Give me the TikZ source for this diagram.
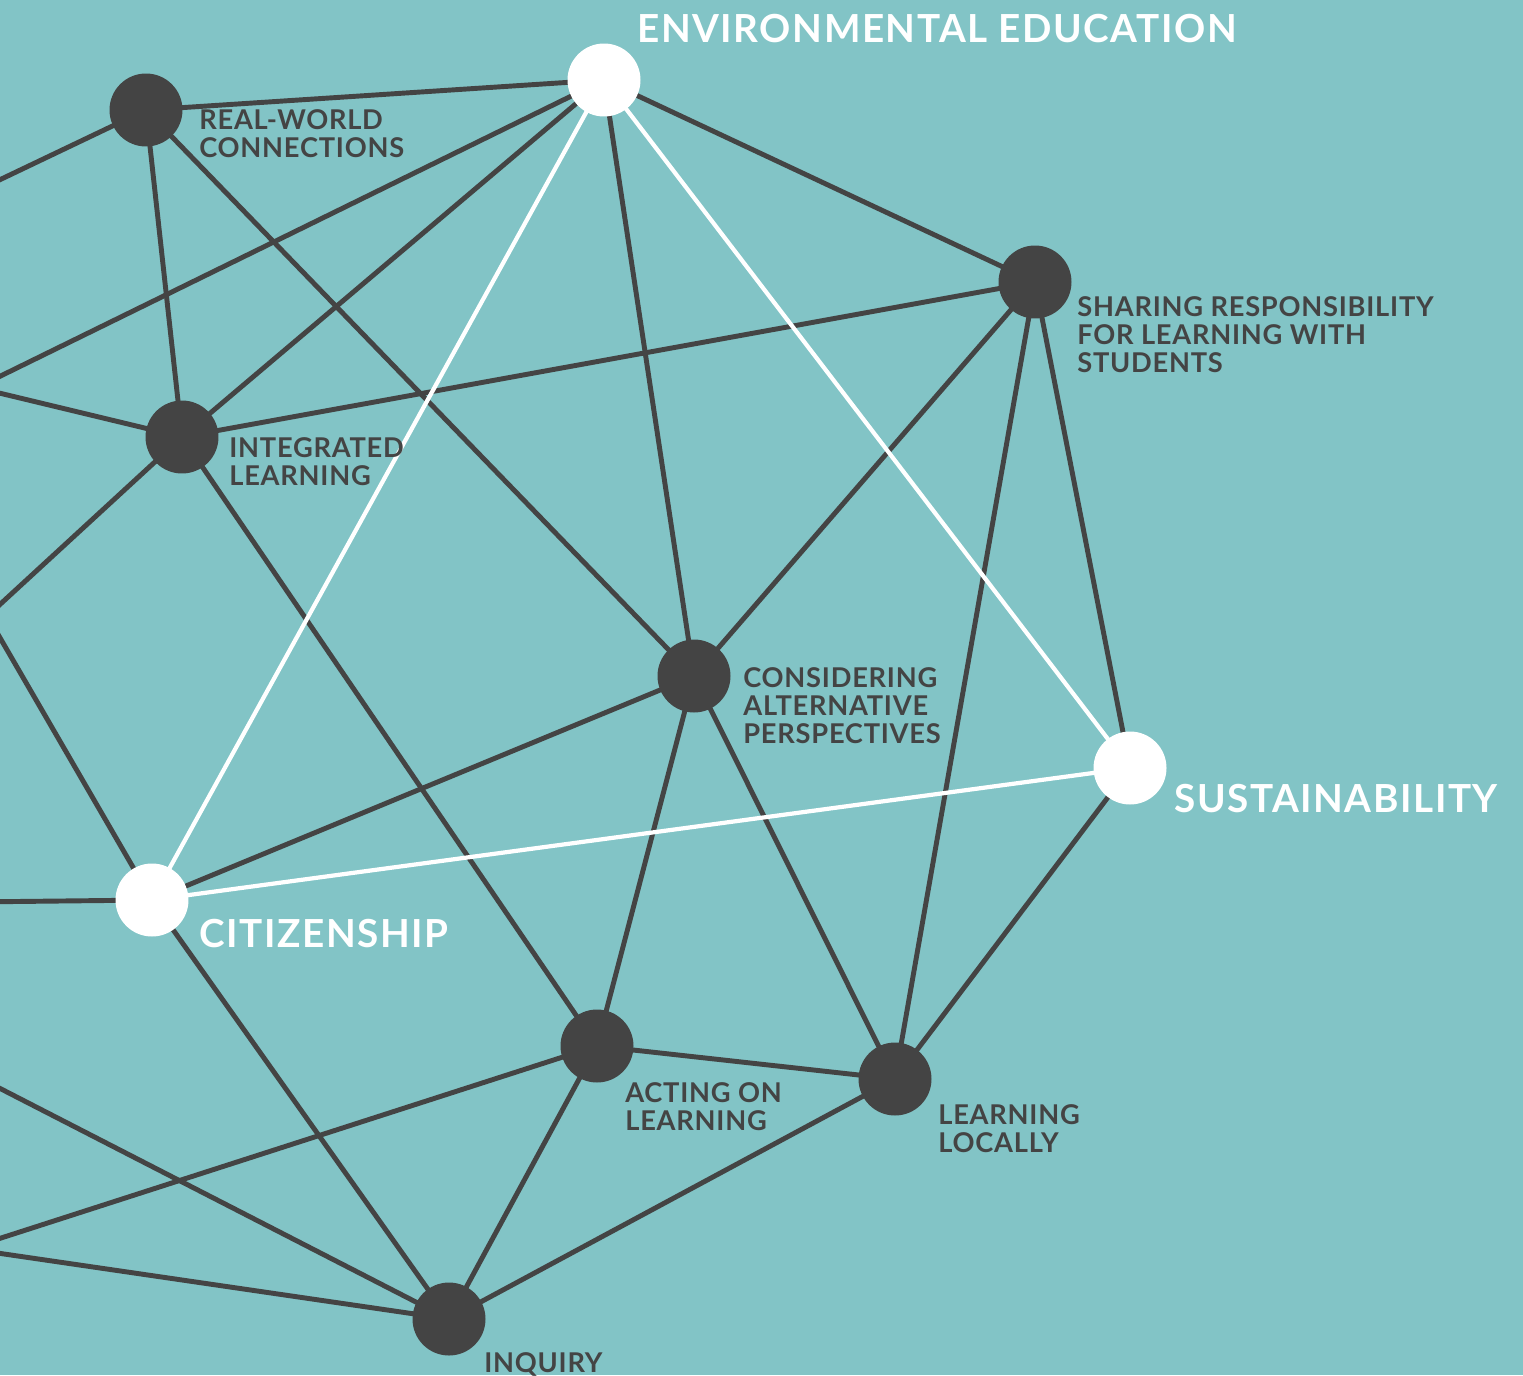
\documentclass[tikz,border=0pt]{standalone}
\usepackage{fontspec}
\setmainfont{Lato}
\newfontfamily\smallFont[LetterSpace=2.8]{Lato}
\newfontfamily\bigFont[LetterSpace=4]{Lato}
\definecolor{bgTeal}{HTML}{82C4C6}
\definecolor{dkGray}{HTML}{444444}
\pgfdeclarelayer{back}
\pgfdeclarelayer{wires}
\pgfsetlayers{back,wires,main}
\begin{document}
\begin{tikzpicture}[x=0.02cm,y=-0.02cm,
  dotN/.style={circle,fill=dkGray,minimum size=1.46cm,inner sep=0},
  hubN/.style={circle,fill=white,minimum size=1.46cm,inner sep=0},
  wire/.style={draw=dkGray,line width=2.8pt},
  wWire/.style={draw=white,line width=2.4pt},
  smallTxt/.style={text=dkGray,font=\smallFont\bfseries\fontsize{15.5}{15.9}\selectfont,align=left,anchor=north west,inner sep=0},
  bigTxt/.style={text=white,font=\bigFont\bfseries\fontsize{22}{24}\selectfont,anchor=north west,inner sep=0}]
\begin{pgfonlayer}{back}
\fill[bgTeal] (0,0) rectangle (1523,1375);
\end{pgfonlayer}
\useasboundingbox (0,0) rectangle (1523,1375);
\clip (0,0) rectangle (1523,1375);

%節點
\node[hubN] (nEE) at (604,80) {};
\node[dotN] (nRW) at (146,110) {};
\node[dotN] (nSR) at (1035,282) {};
\node[dotN] (nIL) at (182,437) {};
\node[dotN] (nCAP) at (694,676) {};
\node[hubN] (nSUS) at (1130,768) {};
\node[hubN] (nCIT) at (152,900) {};
\node[dotN] (nAOL) at (597,1046) {};
\node[dotN] (nLL) at (895,1079) {};
\node[dotN] (nINQ) at (449,1319) {};

%畫面左邊以外的端點
\coordinate (cOffA) at (-30,194);
\coordinate (cOffB) at (-30,391);
\coordinate (cOffC) at (-30,386);
\coordinate (cOffD) at (-30,632);
\coordinate (cOffE) at (-30,586);
\coordinate (cOffF) at (-30,902);
\coordinate (cOffG) at (-30,1073);
\coordinate (cOffH) at (-30,1248);
\coordinate (cOffI) at (-30,1249);

\node[bigTxt] (tEE) at (637,14) {ENVIRONMENTAL EDUCATION};
\node[smallTxt] (tRW) at (199,109) {REAL-WORLD\\CONNECTIONS};
\node[smallTxt] (tSR) at (1077,296) {SHARING RESPONSIBILITY\\FOR LEARNING WITH\\STUDENTS};
\node[smallTxt] (tIL) at (229,437) {INTEGRATED\\LEARNING};
\node[smallTxt] (tCAP) at (743,667) {CONSIDERING\\ALTERNATIVE\\PERSPECTIVES};
\node[bigTxt] (tSUS) at (1174,784) {SUSTAINABILITY};
\node[bigTxt] (tCIT) at (199,919) {CITIZENSHIP};
\node[smallTxt] (tAOL) at (625,1082) {ACTING ON\\LEARNING};
\node[smallTxt] (tLL) at (938,1104) {LEARNING\\LOCALLY};
\node[smallTxt] (tINQ) at (484,1352) {INQUIRY};

\begin{pgfonlayer}{wires}
\draw[wire] (nRW.center) -- (nEE.center);
\draw[wire] (nRW.center) -- (cOffA);
\draw[wire] (nRW.center) -- (nIL.center);
\draw[wire] (nRW.center) -- (nCAP.center);
\draw[wire] (nEE.center) -- (cOffB);
\draw[wire] (nEE.center) -- (nIL.center);
\draw[wire] (nEE.center) -- (nCAP.center);
\draw[wire] (nEE.center) -- (nSR.center);
\draw[wire] (nSR.center) -- (nIL.center);
\draw[wire] (nSR.center) -- (nCAP.center);
\draw[wire] (nSR.center) -- (nLL.center);
\draw[wire] (nSR.center) -- (nSUS.center);
\draw[wire] (nIL.center) -- (cOffC);
\draw[wire] (nIL.center) -- (cOffD);
\draw[wire] (nIL.center) -- (nAOL.center);
\draw[wire] (cOffE) -- (nCIT.center);
\draw[wire] (nCIT.center) -- (nCAP.center);
\draw[wire] (nCIT.center) -- (cOffF);
\draw[wire] (nCIT.center) -- (nINQ.center);
\draw[wire] (nCAP.center) -- (nAOL.center);
\draw[wire] (nCAP.center) -- (nLL.center);
\draw[wire] (nSUS.center) -- (nLL.center);
\draw[wire] (nAOL.center) -- (nLL.center);
\draw[wire] (nAOL.center) -- (nINQ.center);
\draw[wire] (nAOL.center) -- (cOffH);
\draw[wire] (nLL.center) -- (nINQ.center);
\draw[wire] (nINQ.center) -- (cOffG);
\draw[wire] (nINQ.center) -- (cOffI);
%白色的三角形
\draw[wWire] (nEE.center) -- (nCIT.center);
\draw[wWire] (nEE.center) -- (nSUS.center);
\draw[wWire] (nCIT.center) -- (nSUS.center);
\end{pgfonlayer}
\end{tikzpicture}
\end{document}
